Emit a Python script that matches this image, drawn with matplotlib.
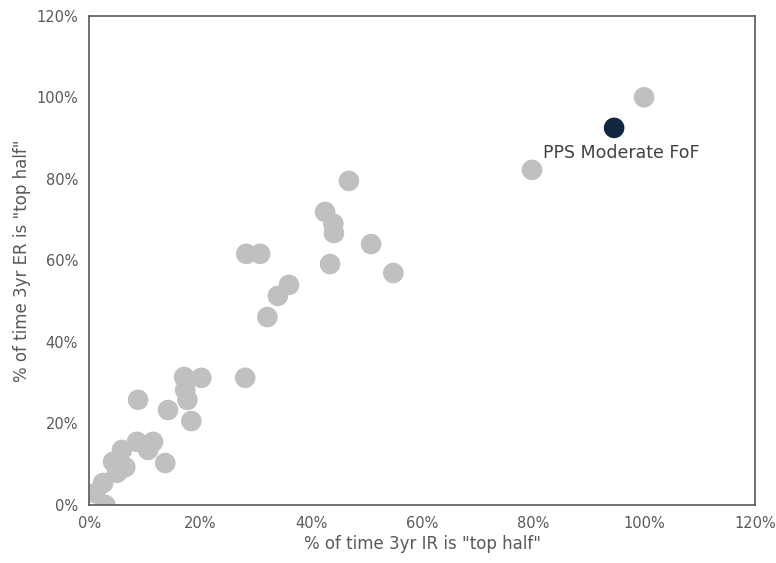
import numpy as np
import matplotlib
matplotlib.rcParams['font.family'] = ['DejaVu Sans']
import matplotlib.pyplot as plt
from matplotlib.ticker import PercentFormatter

# peer funds: % of time 3yr IR / ER in "top half"
peer_ir = [100.0, 79.8, 46.8, 42.5, 44.0, 44.1, 50.8, 43.4, 54.8, 28.3, 30.8, 36.0,
           34.0, 32.1, 28.1, 17.1, 20.2, 17.3, 17.7, 18.4, 14.2, 8.8, 8.6, 11.5,
           10.6, 13.7, 5.9, 4.3, 6.5, 5.0, 2.5, 1.1, 2.9]
peer_er = [100.0, 82.2, 79.5, 71.9, 69.0, 66.7, 64.0, 59.1, 56.9, 61.6, 61.6, 54.0,
           51.3, 46.1, 31.2, 31.4, 31.2, 28.2, 25.8, 20.6, 23.3, 25.8, 15.5, 15.5,
           13.5, 10.3, 13.5, 10.6, 9.3, 7.9, 5.4, 2.9, 0.0]
fund_name = 'PPS Moderate FoF'
fund_ir = 94.6
fund_er = 92.5

fig = plt.figure(figsize=(7.76, 5.63), dpi=100)
ax = fig.add_axes([0.115, 0.103, 0.858, 0.869])

ax.scatter(peer_ir, peer_er, s=220, color='#c0c0c0', edgecolor='none', zorder=2)
ax.scatter([fund_ir], [fund_er], s=220, color='#0e2841', edgecolor='none', zorder=3)
ax.annotate(fund_name, (fund_ir, fund_er), xytext=(-51, -18), textcoords='offset points',
            ha='left', va='center', fontsize=12.5, color='#404040')

ax.set_xlim(0, 120)
ax.set_ylim(0, 120)
ax.set_xticks(np.arange(0, 121, 20))
ax.set_yticks(np.arange(0, 121, 20))
ax.xaxis.set_major_formatter(PercentFormatter(decimals=0))
ax.yaxis.set_major_formatter(PercentFormatter(decimals=0))
ax.tick_params(length=0, labelsize=10.5, labelcolor='#595959', pad=8)
for sp in ax.spines.values():
    sp.set_color('#595959')
    sp.set_linewidth(1.2)

ax.set_xlabel('% of time 3yr IR is "top half"', fontsize=12, color='#595959', labelpad=3)
ax.set_ylabel('% of time 3yr ER is "top half"', fontsize=12, color='#595959', labelpad=4)

fig.savefig('out.png', dpi=100)
